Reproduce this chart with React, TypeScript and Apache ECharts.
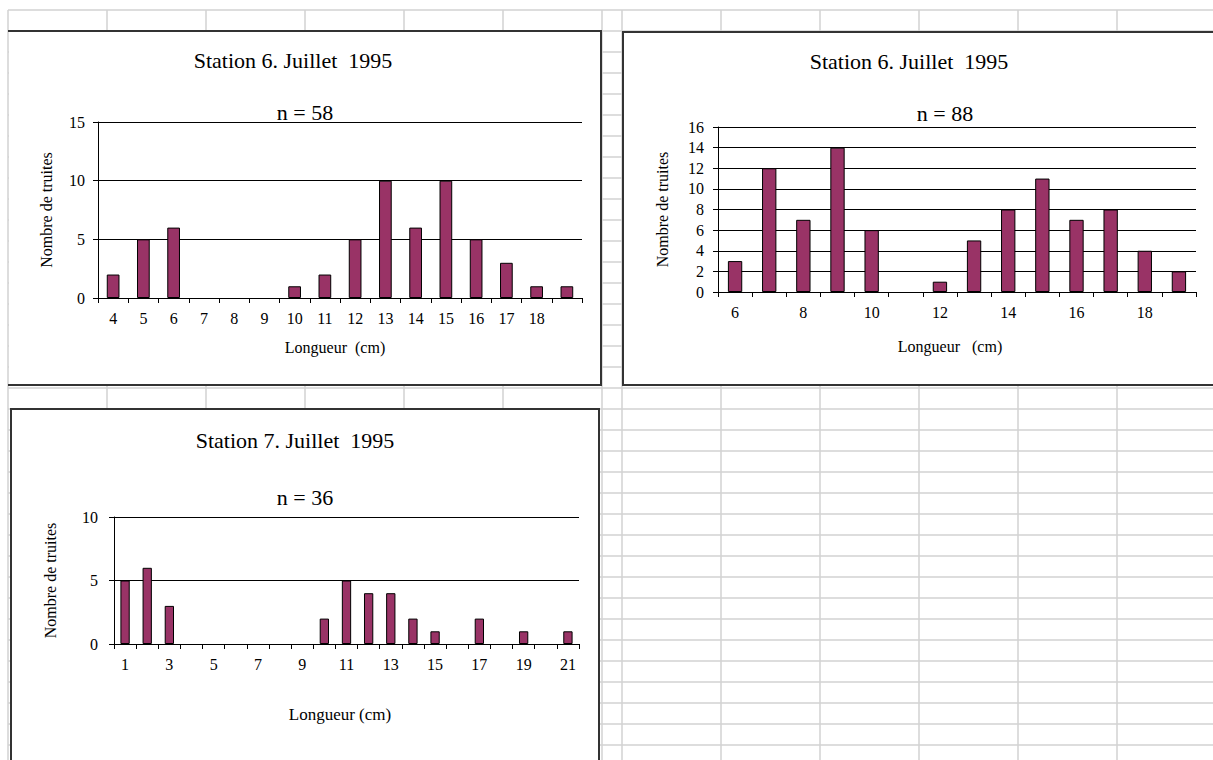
import React, { useEffect, useRef } from "react";
import * as echarts from "echarts";

const FONT = "'Liberation Serif', 'Times New Roman', serif";

// ---- Data ----
const titles = ["Station 6. Juillet  1995", "Station 6. Juillet  1995", "Station 7. Juillet  1995"];
const counts = ["n = 58", "n = 88", "n = 36"];
const xNames = ["Longueur  (cm)", "Longueur   (cm)", "Longueur (cm)"];
const yName = "Nombre de truites";

const cats1 = ["4", "5", "6", "7", "8", "9", "10", "11", "12", "13", "14", "15", "16", "17", "18", ""];
const vals1 = [2, 5, 6, 0, 0, 0, 1, 2, 5, 10, 6, 10, 5, 3, 1, 1];

const cats2 = ["6", "7", "8", "9", "10", "11", "12", "13", "14", "15", "16", "17", "18", "19"];
const vals2 = [3, 12, 7, 14, 6, 0, 1, 5, 8, 11, 7, 8, 4, 2];

const cats3 = ["1", "2", "3", "4", "5", "6", "7", "8", "9", "10", "11", "12", "13", "14", "15", "16", "17", "18", "19", "20", "21"];
const vals3 = [5, 6, 3, 0, 0, 0, 0, 0, 0, 2, 5, 4, 4, 2, 1, 0, 2, 0, 1, 0, 1];

const yMax = [15, 16, 10];
const yStep = [5, 2, 5];

// ---- Layout (positions only) ----
const grids = [
  { left: 98, top: 122, width: 484, height: 176 },
  { left: 718, top: 127, width: 478, height: 165 },
  { left: 114, top: 517, width: 465, height: 127 },
];
const labelIntervals = [0, 1, 1];
const xNameGaps = [41, 46, 62];
const xNamePads = [[0, 10, 0, 0], [0, 14, 0, 0], [0, 13, 0, 0]];
const xNameSizes = [16, 16, 17];
const yNameGaps = [44, 48, 56];
const yLabelMargins = [13, 14, 16];
const titlePos = [
  [293, 60], [909, 61], [295, 440],
];
const countPos = [
  [305, 112.5], [945, 113], [305, 497],
];
const sheetCols = [8, 107, 206, 305, 404, 503, 602, 622, 721, 820, 919, 1018, 1117];

function buildOption() {
  const catsAll = [cats1, cats2, cats3];
  const valsAll = [vals1, vals2, vals3];

  const xAxis = catsAll.map((cats, i) => ({
    type: "category",
    gridIndex: i,
    data: cats,
    axisLine: { show: true, lineStyle: { color: "#000", width: 1 } },
    axisTick: { show: true, interval: 0, length: 5, lineStyle: { color: "#000", width: 1 } },
    axisLabel: { interval: labelIntervals[i], margin: 12, color: "#000", fontFamily: FONT, fontSize: 16 },
    splitLine: { show: false },
    name: xNames[i],
    nameLocation: "middle",
    nameGap: xNameGaps[i],
    nameTextStyle: { color: "#000", fontFamily: FONT, fontSize: xNameSizes[i], padding: xNamePads[i] },
  }));

  const yAxis = yMax.map((mx, i) => ({
    type: "value",
    gridIndex: i,
    min: 0,
    max: mx,
    interval: yStep[i],
    axisLine: { show: true, lineStyle: { color: "#000", width: 1 } },
    axisTick: { show: true, length: 5, lineStyle: { color: "#000", width: 1 } },
    axisLabel: { margin: yLabelMargins[i], color: "#000", fontFamily: FONT, fontSize: 16 },
    splitLine: { show: true, lineStyle: { color: "#000", width: 1 } },
    name: yName,
    nameLocation: "middle",
    nameRotate: 90,
    nameGap: yNameGaps[i],
    nameTextStyle: { color: "#000", fontFamily: FONT, fontSize: 16 },
  }));

  const series = valsAll.map((vals, i) => ({
    type: "bar",
    xAxisIndex: i,
    yAxisIndex: i,
    data: vals.map((v) => (v === 0 ? { value: v, itemStyle: { borderWidth: 0, opacity: 0 } } : v)),
    barCategoryGap: "58%",
    itemStyle: { color: "#993366", borderColor: "#000", borderWidth: 1 },
    z: 3,
  }));

  const graphic: any[] = [];
  for (let k = 0; k < 40; k++) {
    const y = 10 + 21 * k;
    if (y > 760) break;
    graphic.push({ type: "line", z: -10, silent: true, shape: { x1: 8, y1: y, x2: 1213, y2: y }, style: { stroke: "#d2d2d2", lineWidth: 1.5 } });
  }
  sheetCols.forEach((x) => {
    graphic.push({ type: "line", z: -10, silent: true, shape: { x1: x, y1: 10, x2: x, y2: 760 }, style: { stroke: "#d2d2d2", lineWidth: 1.5 } });
  });

  // chart boxes
  const boxStyle = { stroke: "#333", lineWidth: 2, fill: null };
  graphic.push({ type: "rect", z: -5, silent: true, shape: { x: 9, y: 31, width: 592, height: 354 }, style: { fill: "#fff" } });
  graphic.push({ type: "polyline", z: -4, silent: true, shape: { points: [[8, 31], [601, 31], [601, 385], [8, 385]] }, style: boxStyle });
  graphic.push({ type: "rect", z: -5, silent: true, shape: { x: 623, y: 32, width: 600, height: 353 }, style: { fill: "#fff" } });
  graphic.push({ type: "polyline", z: -4, silent: true, shape: { points: [[1220, 32], [623, 32], [623, 385], [1220, 385]] }, style: boxStyle });
  graphic.push({ type: "rect", z: -5, silent: true, shape: { x: 11, y: 409, width: 588, height: 360 }, style: { fill: "#fff" } });
  graphic.push({ type: "polyline", z: -4, silent: true, shape: { points: [[11, 770], [11, 409], [599, 409], [599, 770]] }, style: boxStyle });

  titles.forEach((t, i) => {
    graphic.push({
      type: "text", z: 10, x: titlePos[i][0], y: titlePos[i][1],
      style: { text: t, fill: "#000", font: `22px ${FONT}`, align: "center", verticalAlign: "middle" },
    });
    graphic.push({
      type: "text", z: 10, x: countPos[i][0], y: countPos[i][1],
      style: { text: counts[i], fill: "#000", font: `22px ${FONT}`, align: "center", verticalAlign: "middle" },
    });
  });

  return {
    animation: false,
    backgroundColor: "#fff",
    textStyle: { fontFamily: FONT },
    grid: grids.map((g) => ({ ...g, containLabel: false, show: false })),
    xAxis,
    yAxis,
    series,
    graphic,
  };
}

export default function App() {
  const ref = useRef<HTMLDivElement>(null);
  useEffect(() => {
    if (!ref.current) return;
    const chart = echarts.init(ref.current, null, { renderer: "svg" });
    chart.setOption(buildOption() as any);
    return () => chart.dispose();
  }, []);
  return (
    <div
      ref={ref}
      style={{ position: "absolute", left: 0, top: 0, width: 1213, height: 760, background: "#fff" }}
    />
  );
}
